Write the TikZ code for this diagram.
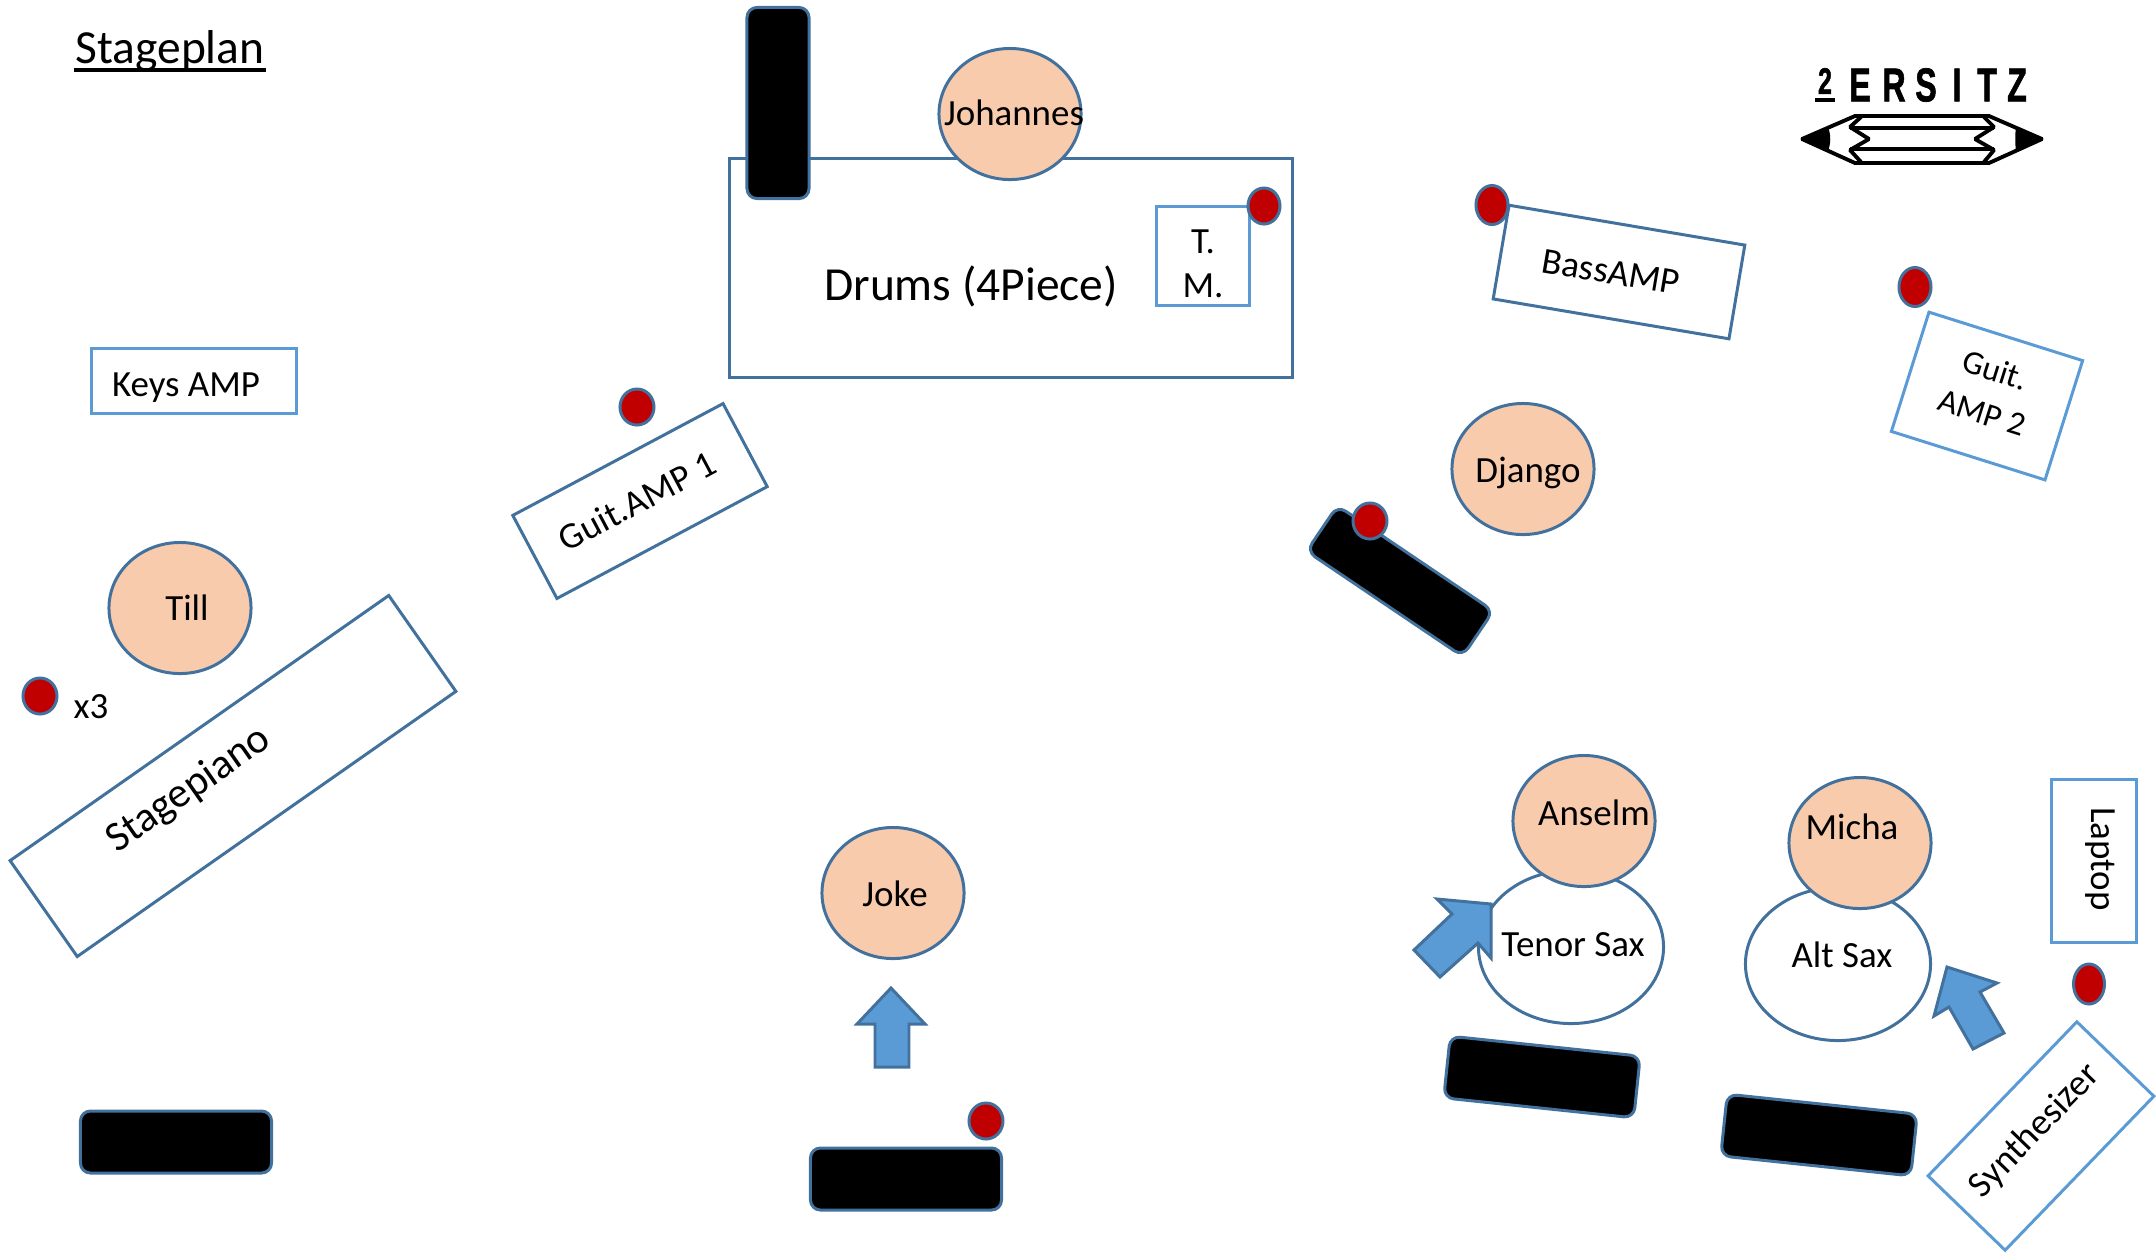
\documentclass[tikz,border=0pt]{standalone}
\usepackage{fontspec}
\setmainfont{Carlito}
\newfontfamily\logofont[FakeBold=1.5]{Liberation Sans Bold}
\usetikzlibrary{shapes.geometric, positioning}
\definecolor{stage_line}{HTML}{41719C}
\definecolor{stage_light}{HTML}{5B9BD5}
\definecolor{stage_skin}{HTML}{F8CBAD}
\definecolor{stage_red}{HTML}{C00000}
\tikzset{
  person/.style={ellipse,draw=stage_line,line width=.85pt,fill=stage_skin,minimum width=1.42cm,minimum height=1.31cm,inner sep=0},
  sax/.style={ellipse,draw=stage_line,line width=.85pt,fill=white,minimum width=1.85cm,minimum height=1.53cm,inner sep=0},
  stand/.style={rectangle,rounded corners=.1cm,draw=stage_line,line width=.85pt,fill=black,minimum width=1.91cm,minimum height=.62cm,inner sep=0},
  plug/.style={ellipse,draw=stage_line,line width=.85pt,fill=stage_red,minimum width=.34cm,minimum height=.36cm,inner sep=0},
  plugtall/.style={plug,minimum width=.32cm,minimum height=.39cm},
  boxdark/.style={rectangle,draw=stage_line,line width=.85pt,fill=white,inner sep=0},
  boxlight/.style={rectangle,draw=stage_light,line width=.85pt,fill=white,inner sep=0},
  txt/.style={inner sep=0,align=center,font=\fontsize{10.5}{12.6}\selectfont},
  txtbig/.style={inner sep=0,font=\fontsize{13.5}{16}\selectfont},
  turn/.style={draw=stage_line,line width=.85pt,fill=stage_light},
  logoline/.style={line width=1.1pt,line join=bevel,black},
  logoletter/.style={inner sep=0,xscale=.68,transform shape,font=\logofont\fontsize{13.5}{13.5}\selectfont},
}
\begin{document}
\begin{tikzpicture}[x=.01cm,y=-.01cm]
	\useasboundingbox (0,0) rectangle (2156,1256);
	\node[txtbig,anchor=base] (TITLE) at (170,63) {Stageplan};
	\draw[line width=.95pt] (74,70) -- (266,70);
	% drums
	\node[boxdark,minimum width=5.62cm,minimum height=2.19cm] (DRUMS) at (1011,268) {};
	\node[txtbig] (DRUMSTXT) at (971,286) {Drums (4Piece)};
	\node[boxlight,minimum width=.93cm,minimum height=.98cm] (TM) at (1203,256) {};
	\node[txt] (TMTXT) at (1203,264) {T.\\M.};
	\node[stand,rotate=90] (STANDD) at (778,103) {};
	\node[person] (JOHANNES) at (1010,114) {};
	\node[txt] (JOHANNESTXT) at (1014,113) {Johannes};
	\node[plug,minimum width=.32cm,minimum height=.36cm] (PLUGA) at (1264,206) {};
	% amps and keys
	\node[boxlight,minimum width=2.04cm,minimum height=.65cm] (KEYS) at (194,381) {};
	\node[txt] (KEYSTXT) at (186,388) {Keys AMP};
	\node[boxdark,minimum width=2.38cm,minimum height=.94cm,rotate=28] (GUITA) at (640,501) {};
	\node[txt,rotate=28] (GUITATXT) at (637,501) {Guit.AMP 1};
	\node[boxdark,minimum width=4.62cm,minimum height=1.17cm,rotate=35] (PIANO) at (233,776) {};
	\node[txt,rotate=35,font=\fontsize{12}{14}\selectfont] (PIANOTXT) at (189,790) {Stagepiano};
	\node[boxdark,minimum width=2.39cm,minimum height=.95cm,rotate=-9.6] (BASS) at (1619,272) {};
	\node[txt,rotate=-9.6] (BASSTXT) at (1611,272) {BassAMP};
	\node[boxlight,minimum width=1.61cm,minimum height=1.25cm,rotate=-17.5] (GUITB) at (1987,396) {};
	\node[txt,rotate=-17.5,font=\fontsize{9.5}{12.6}\selectfont] (GUITBTXT) at (1989,391) {Guit.\\AMP 2};
	\node[boxlight,minimum width=.85cm,minimum height=1.62cm] (LAPTOP) at (2094,861) {};
	\node[txt,rotate=-90] (LAPTOPTXT) at (2100,859) {Laptop};
	\node[boxlight,minimum width=2.14cm,minimum height=1.07cm,rotate=46] (SYNTH) at (2041,1136) {};
	\node[txt,rotate=46] (SYNTHTXT) at (2035,1131) {Synthesizer};
	% people
	\node[person] (TILL) at (180,608) {};
	\node[txt] (TILLTXT) at (187,608) {Till};
	\node[person] (DJANGO) at (1523,469) {};
	\node[txt] (DJANGOTXT) at (1528,473) {Django};
	\node[person] (JOKE) at (893,893) {};
	\node[txt] (JOKETXT) at (895,894) {Joke};
	\node[sax] (TENOR) at (1571,947) {};
	\node[txt] (TENORTXT) at (1573,945) {Tenor Sax};
	\node[person] (ANSELM) at (1584,821) {};
	\node[txt] (ANSELMTXT) at (1594,813) {Anselm};
	\node[sax] (ALT) at (1838,964) {};
	\node[txt] (ALTTXT) at (1842,955) {Alt Sax};
	\node[person] (MICHA) at (1860,843) {};
	\node[txt] (MICHATXT) at (1852,827) {Micha};
	% stands
	\node[stand] (STANDA) at (176,1142) {};
	\node[stand] (STANDB) at (906,1179) {};
	\node[stand,minimum width=1.88cm,minimum height=.55cm,rotate=-34] (STANDC) at (1400,581) {};
	\node[stand,rotate=-6] (STANDE) at (1542,1077) {};
	\node[stand,rotate=-6] (STANDF) at (1819,1135) {};
	% plugs
	\node[plugtall] (PLUGB) at (1492,205) {};
	\node[plugtall] (PLUGC) at (1915,287) {};
	\node[plug] (PLUGD) at (637,407) {};
	\node[plug] (PLUGE) at (1370,521) {};
	\node[plug] (PLUGF) at (40,696) {};
	\node[txt] (PLUGFTXT) at (91,707) {x3};
	\node[plug] (PLUGG) at (986,1121) {};
	\node[plugtall,minimum width=.31cm,minimum height=.4cm] (PLUGH) at (2089,984) {};
	% turn arrows
	\draw[turn] (891,988) -- (925,1024) -- (909,1024) -- (909,1067) -- (875,1067) -- (875,1024) -- (857,1024) -- cycle;
	\draw[turn] (1491,904) -- (1491,958) -- (1478,943) -- (1440,977) -- (1414,950) -- (1452,914) -- (1437,899) -- cycle;
	\draw[turn] (1947,967) -- (1997,983) -- (1980,992) -- (2004,1033) -- (1973,1049) -- (1949,1007) -- (1934,1016) -- cycle;
	% logo
	\node[logoletter,font=\logofont\fontsize{10.5}{10.5}\selectfont] (LOGOTWO) at (1825,81) {2};
	\draw[line width=1pt] (1815,100) -- (1835,100);
	\node[logoletter] (LOGOE) at (1860,85) {E};
	\node[logoletter] (LOGOR) at (1894,85) {R};
	\node[logoletter] (LOGOS) at (1926,85) {S};
	\node[logoletter] (LOGOI) at (1957,85) {I};
	\node[logoletter] (LOGOT) at (1987,85) {T};
	\node[logoletter] (LOGOZ) at (2017,85) {Z};
	\begin{scope}[xshift=.03cm]
	\draw[logoline] (1799,139) -- (1852,116) -- (1986,116) -- (2039,139) -- (1986,163) -- (1852,163) -- cycle;
	\fill (1797,139) -- (1825,127) .. controls (1828,135) and (1828,143) .. (1825,151) -- cycle;
	\fill (2041,139) -- (2013,127) .. controls (2012,135) and (2012,143) .. (2013,151) -- cycle;
	\draw[logoline] (1858,117) -- (1847,127) -- (1866,139) -- (1847,150) -- (1858,162);
	\draw[logoline] (1981,117) -- (1991,127) -- (1972,139) -- (1991,150) -- (1981,162);
	\draw[logoline] (1847,128) -- (1991,128);
	\draw[logoline] (1847,149) -- (1991,149);
	\end{scope}
\end{tikzpicture}
\end{document}
